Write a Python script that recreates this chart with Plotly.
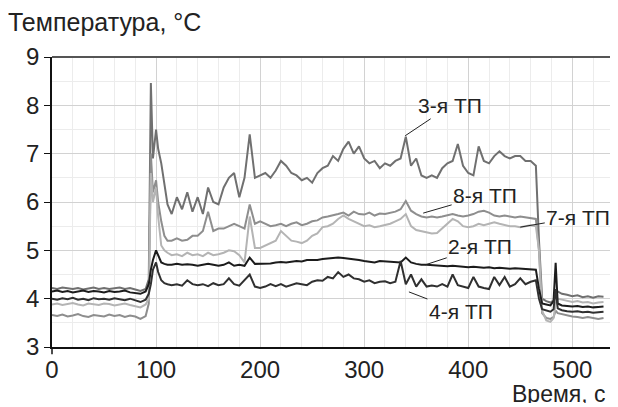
import plotly.graph_objects as go

# time, s
time_s = ([0, 5, 10, 15, 20, 25, 30, 35, 40, 45, 50, 55, 60, 65, 70, 75, 80, 85, 90]
          + [93, 95, 97, 100, 102, 105, 108, 111]
          + [115, 120, 125, 130, 135, 140, 145, 150, 155, 160, 165, 170, 175, 180, 185,
             190, 195, 200, 205, 210, 215, 220, 225, 230, 235, 240, 245, 250, 255, 260,
             265, 270, 275, 280, 285, 290, 295, 300, 305, 310, 315, 320, 325, 330, 335,
             340, 345, 350, 355, 360, 365, 370, 375, 380, 385, 390, 395, 400, 405, 410,
             415, 420, 425, 430, 435, 440, 445, 450, 455, 460, 465]
          + [468, 471, 475, 479, 482, 484, 486, 490, 495, 500, 505, 510, 515, 520, 525, 530])

tp3 = ([4.22, 4.20, 4.23, 4.21, 4.20, 4.22, 4.19, 4.21, 4.23, 4.20, 4.22, 4.20, 4.21, 4.23, 4.20, 4.22, 4.19, 4.16, 4.20]
       + [4.40, 8.46, 6.90, 7.50, 7.10, 6.80, 6.35, 5.95]
       + [5.75, 6.10, 5.85, 6.20, 5.80, 6.10, 5.75, 6.30, 6.00, 5.95, 6.30, 6.50, 6.60, 6.10, 6.50,
          7.40, 6.50, 6.55, 6.60, 6.50, 6.65, 6.85, 6.75, 6.60, 6.55, 6.45, 6.50, 6.40, 6.60, 6.70,
          6.75, 6.95, 6.85, 7.10, 7.25, 7.00, 7.15, 6.90, 6.80, 6.85, 6.70, 6.80, 6.75, 6.85, 6.90,
          7.35, 6.75, 6.90, 6.55, 6.50, 6.55, 6.50, 6.70, 6.80, 6.85, 7.20, 6.75, 6.60, 6.55, 7.15,
          6.85, 6.80, 6.95, 7.05, 6.95, 6.90, 6.95, 6.95, 6.85, 6.85, 6.75]
       + [5.20, 4.00, 3.95, 3.92, 3.96, 4.10, 4.15, 4.10, 4.08, 4.05, 4.07, 4.03, 4.05, 4.02, 4.05, 4.04])

tp8 = ([3.66, 3.64, 3.67, 3.63, 3.65, 3.68, 3.64, 3.62, 3.66, 3.65, 3.63, 3.67, 3.64, 3.66, 3.62, 3.65, 3.63, 3.58, 3.64]
       + [3.90, 7.00, 6.20, 6.45, 6.00, 5.60, 5.30, 5.20]
       + [5.20, 5.25, 5.20, 5.22, 5.30, 5.30, 5.40, 5.80, 5.40, 5.45, 5.45, 5.50, 5.55, 5.50, 5.45,
          5.95, 5.55, 5.60, 5.55, 5.50, 5.52, 5.55, 5.50, 5.55, 5.58, 5.52, 5.55, 5.60, 5.62, 5.68,
          5.70, 5.72, 5.75, 5.78, 5.72, 5.80, 5.75, 5.74, 5.78, 5.72, 5.76, 5.75, 5.78, 5.80, 5.85,
          6.02, 5.82, 5.75, 5.70, 5.68, 5.70, 5.68, 5.70, 5.72, 5.75, 5.72, 5.70, 5.72, 5.75, 5.80,
          5.82, 5.78, 5.72, 5.70, 5.72, 5.70, 5.68, 5.70, 5.68, 5.66, 5.65]
       + [5.00, 3.70, 3.60, 3.58, 3.62, 3.75, 3.70, 3.68, 3.65, 3.63, 3.62, 3.60, 3.62, 3.60, 3.58, 3.60])

tp7 = ([3.88, 3.90, 3.87, 3.89, 3.91, 3.88, 3.86, 3.90, 3.88, 3.87, 3.90, 3.89, 3.86, 3.88, 3.90, 3.87, 3.85, 3.82, 3.88]
       + [4.00, 6.60, 6.00, 6.30, 5.70, 5.10, 5.00, 4.95]
       + [4.90, 4.92, 4.88, 4.95, 4.90, 4.92, 4.88, 4.95, 4.90, 4.92, 4.95, 5.00, 4.98, 4.90, 4.75,
          5.70, 5.05, 5.05, 5.10, 5.15, 5.20, 5.40, 5.30, 5.20, 5.18, 5.15, 5.20, 5.30, 5.35, 5.48,
          5.50, 5.55, 5.65, 5.72, 5.65, 5.60, 5.55, 5.50, 5.52, 5.48, 5.50, 5.52, 5.55, 5.60, 5.65,
          5.75, 5.50, 5.42, 5.40, 5.38, 5.35, 5.36, 5.45, 5.55, 5.65, 5.60, 5.50, 5.48, 5.50, 5.55,
          5.52, 5.55, 5.58, 5.55, 5.52, 5.50, 5.50, 5.48, 5.50, 5.52, 5.50]
       + [5.00, 3.75, 3.55, 3.52, 3.60, 3.90, 4.00, 3.98, 3.95, 3.93, 3.95, 3.92, 3.93, 3.90, 3.92, 3.93])

tp2 = ([4.15, 4.17, 4.14, 4.16, 4.13, 4.15, 4.17, 4.14, 4.16, 4.15, 4.13, 4.16, 4.14, 4.15, 4.17, 4.13, 4.12, 4.10, 4.15]
       + [4.30, 4.60, 4.80, 5.00, 4.90, 4.75, 4.72, 4.70]
       + [4.70, 4.72, 4.70, 4.71, 4.70, 4.68, 4.70, 4.72, 4.70, 4.68, 4.70, 4.75, 4.68, 4.70, 4.68,
          4.85, 4.72, 4.72, 4.73, 4.73, 4.75, 4.76, 4.75, 4.77, 4.78, 4.77, 4.80, 4.80, 4.80, 4.82,
          4.83, 4.84, 4.85, 4.84, 4.83, 4.82, 4.80, 4.78, 4.77, 4.75, 4.78, 4.77, 4.76, 4.76, 4.75,
          4.85, 4.75, 4.72, 4.70, 4.70, 4.69, 4.68, 4.68, 4.67, 4.68, 4.67, 4.66, 4.65, 4.66, 4.65,
          4.64, 4.65, 4.63, 4.64, 4.63, 4.62, 4.63, 4.62, 4.62, 4.61, 4.60]
       + [4.20, 3.90, 3.88, 3.86, 3.95, 4.74, 3.90, 3.86, 3.85, 3.84, 3.85, 3.83, 3.84, 3.82, 3.83, 3.84])

tp4 = ([4.00, 3.98, 4.01, 3.99, 4.02, 3.98, 4.00, 3.97, 4.01, 3.99, 4.00, 3.98, 4.01, 3.99, 3.97, 4.00, 3.96, 3.93, 3.98]
       + [4.10, 4.30, 4.60, 4.75, 4.55, 4.38, 4.32, 4.30]
       + [4.28, 4.30, 4.27, 4.38, 4.30, 4.28, 4.30, 4.26, 4.32, 4.28, 4.30, 4.42, 4.30, 4.27, 4.38,
          4.50, 4.25, 4.22, 4.25, 4.30, 4.26, 4.30, 4.25, 4.28, 4.32, 4.30, 4.28, 4.35, 4.38, 4.37,
          4.45, 4.42, 4.55, 4.45, 4.50, 4.42, 4.40, 4.35, 4.38, 4.32, 4.35, 4.36, 4.32, 4.35, 4.78,
          4.30, 4.50, 4.25, 4.40, 4.25, 4.27, 4.25, 4.30, 4.25, 4.50, 4.28, 4.25, 4.22, 4.45, 4.25,
          4.22, 4.20, 4.45, 4.28, 4.45, 4.25, 4.30, 4.42, 4.30, 4.35, 4.38]
       + [4.00, 3.78, 3.75, 3.73, 3.78, 4.20, 3.80, 3.76, 3.74, 3.73, 3.74, 3.72, 3.73, 3.71, 3.72, 3.73])

series_names = ["3-я ТП", "8-я ТП", "7-я ТП", "2-я ТП", "4-я ТП"]
series_values = [tp3, tp8, tp7, tp2, tp4]
series_colors = ["#707070", "#8e8e8e", "#b4b4b4", "#1c1c1c", "#303030"]

x_ticks = [0, 100, 200, 300, 400, 500]
y_ticks = [3, 4, 5, 6, 7, 8, 9]

for v in series_values:
    assert len(v) == len(time_s), (len(v), len(time_s))

FONT = "Liberation Sans, Arial, Helvetica, sans-serif"

fig = go.Figure()
for name, vals, col in zip(series_names, series_values, series_colors):
    fig.add_trace(go.Scatter(x=time_s, y=vals, mode="lines", name=name,
                             line=dict(color=col, width=2), showlegend=False))

# label anchors: (text, time, value, ax, ay)
labels = [
    ("3-я ТП", 339.4, 7.37, 45, -30),
    ("8-я ТП", 356.7, 5.77, 62, -18),
    ("7-я ТП", 450.0, 5.48, 58, -10),
    ("2-я ТП", 358.7, 4.70, 55, -18),
    ("4-я ТП", 343.0, 4.14, 52, 20),
]
for text, tx, ty, ax, ay in labels:
    fig.add_annotation(x=tx, y=ty, text=text, showarrow=True, arrowhead=0,
                       arrowwidth=1, arrowcolor="#222", ax=ax, ay=ay,
                       font=dict(family=FONT, size=21, color="#222"))

fig.add_annotation(xref="paper", yref="paper", x=0.984, y=-0.162, xanchor="right",
                   yanchor="middle", text="Время, с", showarrow=False, height=18,
                   font=dict(family=FONT, size=23, color="#222"))

# top border line
fig.add_shape(type="line", xref="paper", yref="paper", x0=0, x1=1, y0=1, y1=1,
              line=dict(color="#555", width=2))
# small extension of y-axis below x-axis
fig.add_shape(type="line", xref="paper", yref="paper", x0=0, x1=0, y0=0, y1=-0.025,
              line=dict(color="#111", width=1.5))

# page body has an 8px margin: figure is sized/offset to compensate
fig.update_layout(
    width=610, height=399,
    margin=dict(l=44, r=2, t=49, b=60),
    paper_bgcolor="white", plot_bgcolor="white",
    font=dict(family=FONT, size=22, color="#222"),
    title=dict(text="Температура, °C", x=0, xanchor="left", xref="container",
               y=1 - 14 / 399, yanchor="middle", yref="container", pad=dict(l=0, r=0, t=0, b=0),
               font=dict(family=FONT, size=25, color="#222")),
)
fig.update_xaxes(range=[0, 542], tickvals=x_ticks, ticks="",
                 showline=True, linecolor="#111", linewidth=2,
                 showgrid=True, gridcolor="#d2d2d2", gridwidth=1, zeroline=False,
                 minor=dict(dtick=20, showgrid=True, gridcolor="#ececec", gridwidth=1),
                 tickfont=dict(family=FONT, size=24, color="#222"))
fig.update_yaxes(range=[3, 9], tickvals=y_ticks, ticks="outside", ticklen=6,
                 tickcolor="#111", showline=True, linecolor="#111", linewidth=1.5,
                 showgrid=True, gridcolor="#d2d2d2", gridwidth=1, zeroline=False,
                 minor=dict(dtick=0.5, showgrid=True, gridcolor="#ececec", gridwidth=1),
                 tickfont=dict(family=FONT, size=24, color="#222"))

fig.write_html("out.html")
